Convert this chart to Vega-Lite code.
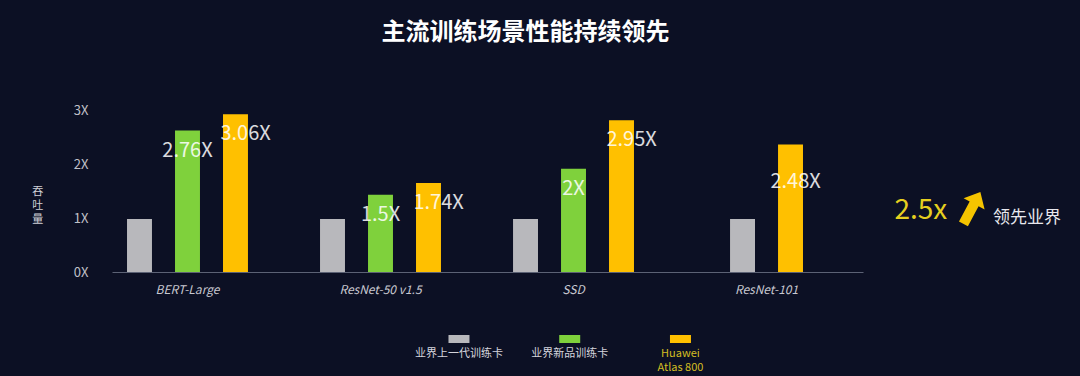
{
  "$schema": "https://vega.github.io/schema/vega-lite/v6.json",
  "background": "#0c1024",
  "padding": {"left": 31, "top": 21, "right": 40, "bottom": 12},
  "config": {
    "view": {"stroke": null},
    "font": "Noto Sans CJK SC"
  },
  "title": {
    "text": "主流训练场景性能持续领先",
    "color": "#ffffff",
    "fontSize": 24,
    "fontWeight": "bold",
    "font": "Noto Sans CJK SC",
    "anchor": "middle",
    "offset": 59,
    "dx": -21
  },
  "datasets": {
    "bars": [
      {"model": "BERT-Large", "series": "业界上一代训练卡", "throughput": 0.98, "label": null},
      {"model": "BERT-Large", "series": "业界新品训练卡", "throughput": 2.62, "label": "2.76X"},
      {"model": "BERT-Large", "series": "Huawei Atlas 800", "throughput": 2.92, "label": "3.06X"},
      {"model": "ResNet-50 v1.5", "series": "业界上一代训练卡", "throughput": 0.98, "label": null},
      {"model": "ResNet-50 v1.5", "series": "业界新品训练卡", "throughput": 1.43, "label": "1.5X"},
      {"model": "ResNet-50 v1.5", "series": "Huawei Atlas 800", "throughput": 1.65, "label": "1.74X"},
      {"model": "SSD", "series": "业界上一代训练卡", "throughput": 0.98, "label": null},
      {"model": "SSD", "series": "业界新品训练卡", "throughput": 1.91, "label": "2X"},
      {"model": "SSD", "series": "Huawei Atlas 800", "throughput": 2.81, "label": "2.95X"},
      {"model": "ResNet-101", "series": "业界上一代训练卡", "throughput": 0.98, "label": null},
      {"model": "ResNet-101", "series": "Huawei Atlas 800", "throughput": 2.36, "label": "2.48X"}
    ],
    "legend": [
      {"series": "业界上一代训练卡", "label": "业界上一代训练卡"},
      {"series": "业界新品训练卡", "label": "业界新品训练卡"},
      {"series": "Huawei Atlas 800", "label": "Huawei\nAtlas 800"}
    ],
    "note": [
      {"item": "2.5x"},
      {"item": "arrow"},
      {"item": "领先业界"}
    ]
  },
  "spacing": 20,
  "center": true,
  "vconcat": [
    {
      "spacing": 18,
      "hconcat": [
        {
          "width": 751,
          "height": 162,
          "data": {"name": "bars"},
          "encoding": {
            "x": {
              "field": "model",
              "type": "nominal",
              "sort": ["BERT-Large", "ResNet-50 v1.5", "SSD", "ResNet-101"],
              "scale": {"domain": ["BERT-Large", "ResNet-50 v1.5", "SSD", "ResNet-101"], "paddingInner": 0.254, "paddingOuter": 0.0725, "align": 0.125},
              "axis": {
                "title": null,
                "labelAngle": 0,
                "labelFont": "Noto Sans CJK SC",
                "labelFontStyle": "italic",
                "labelFontSize": 12,
                "labelColor": "#c8c8d0",
                "labelPadding": 12,
                "ticks": false,
                "domainColor": "#5c6275",
                "domainWidth": 1
              }
            },
            "y": {
              "field": "throughput",
              "type": "quantitative",
              "scale": {"domain": [0, 3], "nice": false},
              "axis": {
                "title": ["吞", "吐", "量"],
                "titleAngle": 0,
                "titleColor": "#d0d0d8",
                "titleFontSize": 11,
                "titleFontWeight": "normal",
                "titleLineHeight": 14,
                "titleAlign": "center",
                "titleBaseline": "middle",
                "titlePadding": 8,
                "values": [0, 1, 2, 3],
                "labelExpr": "datum.value + 'X'",
                "labelColor": "#c0c0c8",
                "labelFontSize": 13,
                "labelPadding": 24,
                "labelFlush": false,
                "grid": false,
                "domain": false,
                "ticks": false
              }
            },
            "color": {
              "field": "series",
              "type": "nominal",
              "scale": {"domain": ["业界上一代训练卡", "业界新品训练卡", "Huawei Atlas 800"], "range": ["#b8b8bc", "#7fd13c", "#ffc000"]},
              "legend": null
            }
          },
          "layer": [
            {
              "transform": [{"filter": "datum.model !== 'ResNet-101'"}],
              "mark": {"type": "bar"},
              "encoding": {
                "xOffset": {"field": "series", "type": "nominal", "scale": {"domain": ["业界上一代训练卡", "业界新品训练卡", "Huawei Atlas 800"], "paddingInner": 0.48, "paddingOuter": 0.24}}
              }
            },
            {
              "transform": [{"filter": "datum.model === 'ResNet-101'"}],
              "mark": {"type": "bar"},
              "encoding": {
                "xOffset": {"field": "series", "type": "nominal", "scale": {"domain": ["业界上一代训练卡", "Huawei Atlas 800"], "paddingInner": 0.48, "paddingOuter": 0.74}}
              }
            },
            {
              "transform": [{"filter": "datum.model !== 'ResNet-101' && datum.label != null"}],
              "mark": {"type": "text", "opacity": 0.85, "fontSize": 20, "baseline": "middle", "dy": 20},
              "encoding": {
                "xOffset": {"field": "series", "type": "nominal", "scale": {"domain": ["业界上一代训练卡", "业界新品训练卡", "Huawei Atlas 800"], "paddingInner": 0.48, "paddingOuter": 0.24}},
                "text": {"field": "label"},
                "color": {"value": "#ffffff"}
              }
            },
            {
              "transform": [{"filter": "datum.model === 'ResNet-101' && datum.label != null"}],
              "mark": {"type": "text", "opacity": 0.85, "fontSize": 20, "baseline": "middle", "dy": 37},
              "encoding": {
                "xOffset": {"field": "series", "type": "nominal", "scale": {"domain": ["业界上一代训练卡", "Huawei Atlas 800"], "paddingInner": 0.48, "paddingOuter": 0.74}},
                "text": {"field": "label"},
                "color": {"value": "#ffffff"}
              }
            }
          ],
          "resolve": {"scale": {"xOffset": "independent"}}
        },
        {
          "width": 138,
          "height": 204,
          "data": {"name": "note"},
          "encoding": {
            "x": {
              "field": "item",
              "type": "nominal",
              "scale": {"type": "point", "domain": ["2.5x", "arrow", "领先业界"], "padding": 0.3, "align": 1},
              "axis": null
            }
          },
          "layer": [
            {
              "transform": [{"filter": "datum.item === '2.5x'"}],
              "mark": {"type": "text", "fontSize": 28, "color": "#e6cf1f", "baseline": "middle", "dx": 8, "dy": -1},
              "encoding": {"text": {"field": "item"}}
            },
            {
              "transform": [{"filter": "datum.item === 'arrow'"}],
              "mark": {
                "type": "point",
                "shape": "M0.19,-1.35 L0.85,-0.61 L0.47,-0.61 L0.47,0.65 L-0.09,0.65 L-0.09,-0.61 L-0.47,-0.61 Z",
                "filled": true,
                "opacity": 1,
                "color": "#f5c400",
                "size": 1300,
                "angle": 28
              },
              "encoding": {}
            },
            {
              "transform": [{"filter": "datum.item === '领先业界'"}],
              "mark": {"type": "text", "fontSize": 17, "color": "#e8e8ee", "baseline": "middle", "dx": 8, "dy": 6},
              "encoding": {"text": {"field": "item"}}
            }
          ]
        }
      ]
    },
    {
      "width": 400,
      "height": 10,
      "data": {"name": "legend"},
      "encoding": {
        "x": {
          "field": "series",
          "type": "nominal",
          "sort": null,
          "scale": {"type": "point", "domain": ["业界上一代训练卡", "业界新品训练卡", "Huawei Atlas 800"], "padding": 0.806, "align": 0.406},
          "axis": null
        }
      },
      "layer": [
        {
          "mark": {"type": "point", "shape": "M-1,-0.38H1V0.38H-1Z", "filled": true, "opacity": 1, "size": 441},
          "encoding": {
            "color": {
              "field": "series",
              "type": "nominal",
              "scale": {"domain": ["业界上一代训练卡", "业界新品训练卡", "Huawei Atlas 800"], "range": ["#b8b8bc", "#7fd13c", "#ffc000"]},
              "legend": null
            }
          }
        },
        {
          "mark": {"type": "text", "fontSize": 11, "baseline": "top", "dy": 9, "lineBreak": "\n", "lineHeight": 14},
          "encoding": {
            "text": {"field": "label"},
            "color": {"condition": {"test": "datum.series === 'Huawei Atlas 800'", "value": "#d4be22"}, "value": "#d4d4dc"}
          }
        }
      ]
    }
  ]
}
